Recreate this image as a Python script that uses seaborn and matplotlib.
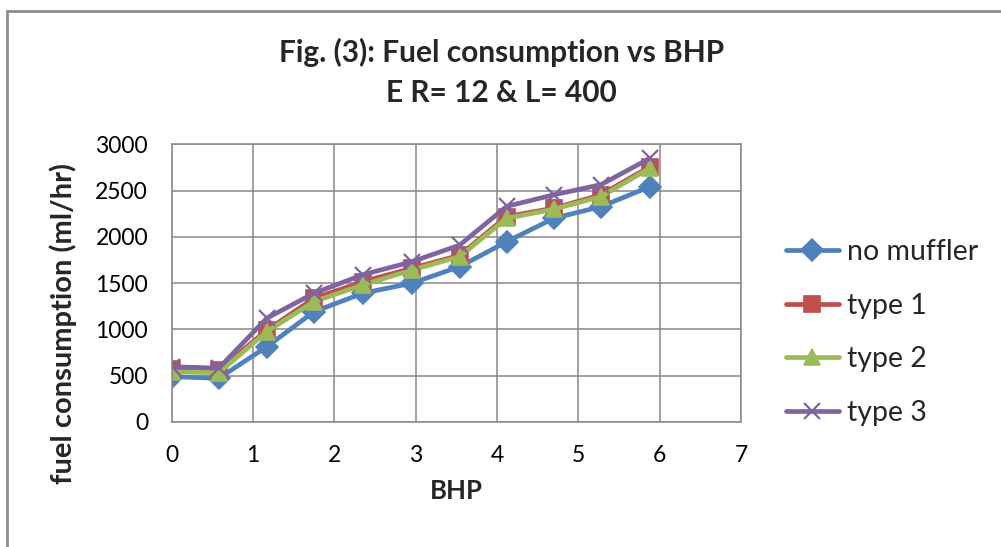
import seaborn as sns
import matplotlib.pyplot as plt
from matplotlib.patches import Rectangle

# --------------------------------------------------
# Data
# --------------------------------------------------
bhp = [0, 0.58, 1.17, 1.75, 2.35, 2.95, 3.54, 4.12, 4.70, 5.28, 5.88]

no_muffler = [487, 470, 812, 1190, 1390, 1498, 1677, 1948, 2201, 2327, 2543]
type_1 = [575, 560, 990, 1335, 1515, 1660, 1800, 2220, 2310, 2455, 2760]
type_2 = [540, 530, 975, 1300, 1480, 1640, 1786, 2200, 2300, 2435, 2745]
type_3 = [595, 580, 1120, 1390, 1590, 1730, 1910, 2330, 2455, 2565, 2850]

series_names = ["no muffler", "type 1", "type 2", "type 3"]
series_values = [no_muffler, type_1, type_2, type_3]
colors = ["#4F81BD", "#C0504D", "#9BBB59", "#8064A2"]
marker_list = ["D", "s", "^", "x"]

x_ticks = [0, 1, 2, 3, 4, 5, 6, 7]
y_ticks = [0, 500, 1000, 1500, 2000, 2500, 3000]

# --------------------------------------------------
# Plot
# --------------------------------------------------
sns.set_style("white")
plt.rcParams["font.family"] = ["Lato", "DejaVu Sans"]

fig = plt.figure(figsize=(10.01, 5.47), dpi=100)
ax = fig.add_axes([0.1715, 0.229, 0.5687, 0.507])

# seaborn won't mix filled and line markers in one call, so one call per series
for name, vals, col, mk in zip(series_names, series_values, colors, marker_list):
    sns.lineplot(
        x=bhp, y=vals, color=col, marker=mk, label=name,
        linewidth=3.4, markersize=12 if mk == "x" else 11,
        markeredgewidth=1.6 if mk == "x" else 1.2,
        markeredgecolor=col, ax=ax,
    )

ax.set_xlim(0, 7)
ax.set_ylim(0, 3000)
ax.set_xticks(x_ticks)
ax.set_yticks(y_ticks)
ax.grid(True, color="#888888", linewidth=1.1)
ax.set_axisbelow(True)
for sp in ax.spines.values():
    sp.set_color("#888888")
    sp.set_linewidth(1.1)

ax.tick_params(axis="both", which="major", labelsize=16.5, colors="#888888",
               labelcolor="black", length=5, width=1.1, direction="out")
ax.tick_params(axis="y", pad=12)
ax.tick_params(axis="x", pad=12)

ax.set_xlabel("BHP", fontsize=18.5, fontweight="bold")
ax.set_ylabel("fuel consumption (ml/hr)", fontsize=21, fontweight="bold")
ax.xaxis.set_label_coords(0.5, -0.205)
ax.yaxis.label.set_va("center")
ax.yaxis.set_label_coords(-0.191, 0.356)

# title, two lines
fig.text(0.501, 1 - 62 / 547, "Fig. (3): Fuel consumption vs BHP",
         ha="center", va="baseline", fontsize=21.5, fontweight="bold")
fig.text(0.501, 1 - 101.5 / 547, "E R= 12 & L= 400",
         ha="center", va="baseline", fontsize=21.5, fontweight="bold")

# legend on the right
handles, labels = ax.get_legend_handles_labels()
ax.legend(handles, labels, loc="center left",
          bbox_to_anchor=(786 / 1001, 1 - 332.5 / 547),
          bbox_transform=fig.transFigure, frameon=False,
          fontsize=20.5, handlelength=1.85, handletextpad=0.28,
          labelspacing=0.98, borderpad=0, borderaxespad=0)

# chart-area border (cut off at right and bottom)
fig.add_artist(Rectangle((7 / 1001, -0.1), 1.2, 1.1 - 11 / 547,
                         transform=fig.transFigure, fill=False,
                         edgecolor="#8c8c8c", linewidth=2, clip_on=False))

plt.savefig("out.png", dpi=100)
plt.close()
